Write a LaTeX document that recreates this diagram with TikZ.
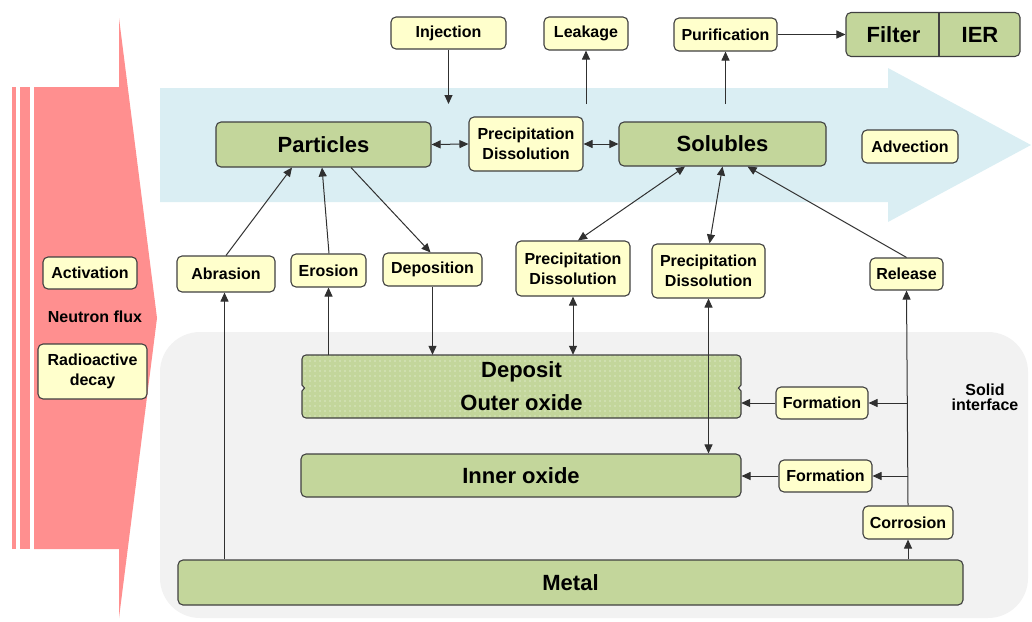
\documentclass[tikz,border=0pt]{standalone}
\usepackage{fontspec}
\setmainfont{Liberation Sans}
\usetikzlibrary{arrows.meta,patterns.meta,calc}
\definecolor{ylw}{HTML}{FFFFCC}
\definecolor{grn}{HTML}{C3D69B}
\definecolor{pnk}{HTML}{FF8F8F}
\definecolor{blu}{HTML}{DAEEF3}
\definecolor{gry}{HTML}{F2F2F2}
\definecolor{brd}{HTML}{404040}
\definecolor{ln}{HTML}{303030}
\tikzset{
  smallbox/.style={draw=brd, line width=1.1pt, fill=ylw, rounded corners=5pt, inner sep=0pt, align=center, font=\bfseries\fontsize{16}{20}\selectfont},
  bigbox/.style={draw=brd, line width=1.1pt, fill=grn, rounded corners=5pt, inner sep=0pt, align=center, font=\bfseries\fontsize{22}{26}\selectfont},
  bigtext/.style={inner sep=0pt, align=center, font=\bfseries\fontsize{22}{33}\selectfont},
  smalltext/.style={inner sep=0pt, align=center, font=\bfseries\fontsize{16}{15}\selectfont},
  tip/.tip={Triangle[length=9pt,width=8pt]},
  conn/.style={draw=ln, line width=1pt, -tip},
  bidir/.style={draw=ln, line width=1pt, tip-tip},
}
\begin{document}
\begin{tikzpicture}[x=1pt,y=-1pt]
\useasboundingbox (0,0) rectangle (1032,621);
% backgrounds
\fill[gry, rounded corners=40pt] (160,332) rectangle (1028,618);
\fill[blu] (160,88) -- (888,88) -- (888,68) -- (1031,145) -- (888,222) -- (888,202) -- (160,202) -- cycle;
\fill[pnk] (12,87) rectangle (16,549);
\fill[pnk] (20,87) rectangle (30,549);
\fill[pnk] (34,87) -- (119,87) -- (119,18) -- (157,318) -- (119,618) -- (119,549) -- (34,549) -- cycle;

% top row
\node[smallbox, minimum width=115, minimum height=32] (inj) at (448.5,33) {Injection};
\node[smallbox, minimum width=84, minimum height=33] (leak) at (586,33.5) {Leakage};
\node[smallbox, minimum width=103, minimum height=33] (pur) at (725.5,34.5) {Purification};
\node[bigbox, minimum width=174, minimum height=44] (fi) at (933,34.5) {};
\draw[brd, line width=1.1pt] (939,12.5) -- (939,56.5);
\node[bigtext] (filt) at (893.5,34.5) {Filter};
\node[bigtext] (ier) at (980,34.5) {IER};

% fluid row
\node[bigbox, minimum width=215, minimum height=45] (part) at (323.5,144.5) {Particles};
\node[smallbox, minimum width=114, minimum height=54] (pd0) at (526,144) {Precipitation\\Dissolution};
\node[bigbox, minimum width=207, minimum height=44] (sol) at (722.5,144) {Solubles};
\node[smallbox, minimum width=96, minimum height=33] (adv) at (910,146.5) {Advection};

% left arrow labels
\node[smallbox, minimum width=94, minimum height=32] (act) at (90,273) {Activation};
\node[smalltext] (nf) at (95,317) {Neutron flux};
\node[smallbox, minimum width=109, minimum height=55] (rad) at (92.5,371.5) {Radioactive\\decay};

% middle row
\node[smallbox, minimum width=98, minimum height=36] (abr) at (226,274) {Abrasion};
\node[smallbox, minimum width=75, minimum height=33] (ero) at (328.5,270.5) {Erosion};
\node[smallbox, minimum width=99, minimum height=33] (dep) at (432.5,269.5) {Deposition};
\node[smallbox, minimum width=114, minimum height=55] (pd1) at (573,268.5) {Precipitation\\Dissolution};
\node[smallbox, minimum width=113, minimum height=54] (pd2) at (708.5,271) {Precipitation\\Dissolution};
\node[smallbox, minimum width=73, minimum height=32] (rel) at (906.5,274) {Release};

% solid layers
\path[fill=grn] (302,359) arc[start angle=180, end angle=270, radius=4] -- (737,355) arc[start angle=270, end angle=360, radius=4] -- (741,385) -- (738.5,388) -- (741,391) -- (741,414) arc[start angle=0, end angle=90, radius=4] -- (306,418) arc[start angle=90, end angle=180, radius=4] -- (302,391) -- (304.5,388) -- (302,385) -- cycle;
\path[pattern={Dots[radius=0.55pt,distance=5pt]}, pattern color=white!85!grn] (302,359) arc[start angle=180, end angle=270, radius=4] -- (737,355) arc[start angle=270, end angle=360, radius=4] -- (741,385) -- (738.5,388) -- (741,391) -- (741,414) arc[start angle=0, end angle=90, radius=4] -- (306,418) arc[start angle=90, end angle=180, radius=4] -- (302,391) -- (304.5,388) -- (302,385) -- cycle;
\draw[brd, line width=1.1pt] (302,359) arc[start angle=180, end angle=270, radius=4] -- (737,355) arc[start angle=270, end angle=360, radius=4] -- (741,385) -- (738.5,388) -- (741,391) -- (741,414) arc[start angle=0, end angle=90, radius=4] -- (306,418) arc[start angle=90, end angle=180, radius=4] -- (302,391) -- (304.5,388) -- (302,385) -- cycle;
\node[bigtext, minimum width=439, minimum height=63] (depo) at (521.5,386.5) {Deposit\\Outer oxide};
\node[smallbox, minimum width=92, minimum height=32] (form1) at (822,403) {Formation};
\node[bigbox, minimum width=440, minimum height=43] (inner) at (521,475.5) {Inner oxide};
\node[smallbox, minimum width=93, minimum height=32] (form2) at (825.5,476) {Formation};
\node[smallbox, minimum width=90, minimum height=33] (corr) at (908,522.5) {Corrosion};
\node[bigbox, minimum width=785, minimum height=45] (metal) at (570.5,582.5) {Metal};
\node[smalltext] (solid) at (985,397.5) {Solid\\interface};

% connectors
\coordinate (injend) at (448.5,104);
\coordinate (leakstart) at (586,104);
\coordinate (purstart) at (725.5,104);
\draw[conn] (inj.south) -- (injend);
\draw[conn] (leakstart) -- (leak.south);
\draw[conn] (purstart) -- (pur.south);
\draw[conn] (pur.east) -- (fi.west);
\draw[bidir] (part.east) -- (pd0.west);
\draw[bidir] (pd0.east) -- (sol.west);
\draw[conn] (abr.north) -- ([xshift=-31.5]part.south);
\draw[conn] ([xshift=0.5]ero.north) -- ([xshift=-1.5]part.south);
\draw[conn] ([xshift=27.5]part.south) -- ([xshift=-2]dep.north);
\draw[bidir] ([xshift=5]pd1.north) -- ([xshift=-37.5]sol.south);
\draw[bidir] ([xshift=1]pd2.north) -- ([xshift=0]sol.south);
\draw[conn] (rel.north) -- ([xshift=25]sol.south);
\draw[conn] ([xshift=-1.5]abr.south |- metal.north) -- ([xshift=-1.5]abr.south);
\draw[conn] (ero.south |- depo.north) -- (ero.south);
\draw[conn] (dep.south) -- (dep.south |- depo.north);
\draw[bidir] (pd1.south) -- (pd1.south |- depo.north);
\draw[bidir] (pd2.south) -- (pd2.south |- inner.north);
\draw[conn] (corr.south |- metal.north) -- (corr.south);
\draw[conn] (corr.north) -- (rel.south);
\draw[conn] (corr.north |- form1.east) -- (form1.east);
\draw[conn] (corr.north |- form2.east) -- (form2.east);
\draw[conn] (form1.west) -- (form1.west -| depo.east);
\draw[conn] (form2.west) -- (form2.west -| inner.east);
\end{tikzpicture}
\end{document}
